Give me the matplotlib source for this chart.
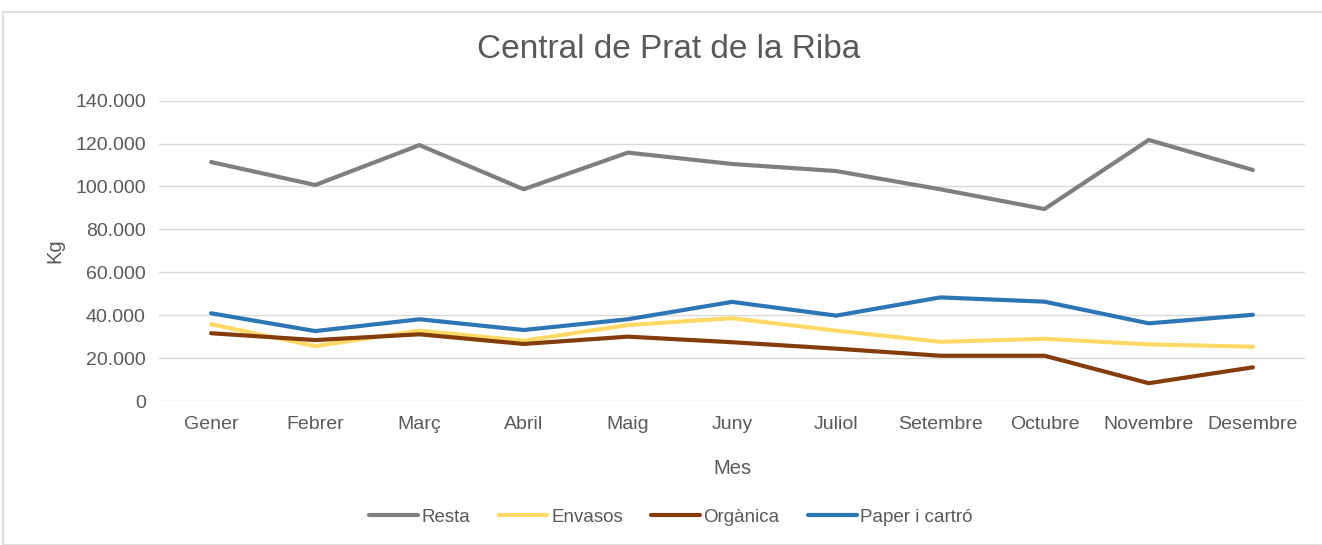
import matplotlib
matplotlib.use("Agg")
import matplotlib.pyplot as plt
from matplotlib.patches import Rectangle
from matplotlib.ticker import FuncFormatter

months = ["Gener", "Febrer", "Març", "Abril", "Maig", "Juny", "Juliol",
          "Setembre", "Octubre", "Novembre", "Desembre"]
resta = [111400, 100700, 119300, 98700, 115800, 110500, 107200, 98700, 89500, 121700, 107700]
envasos = [35800, 25600, 32800, 28100, 35400, 38600, 32800, 27600, 29000, 26400, 25300]
organica = [31600, 28400, 31100, 26600, 30000, 27400, 24400, 21100, 21100, 8300, 15700]
paper = [40900, 32600, 38100, 33100, 38100, 46200, 39800, 48300, 46300, 36200, 40200]
yticks = [0, 20000, 40000, 60000, 80000, 100000, 120000, 140000]

series = [("Resta", resta, "#7F7F7F"),
          ("Envasos", envasos, "#FFD966"),
          ("Orgànica", organica, "#843C0C"),
          ("Paper i cartró", paper, "#2E75B6")]

plt.rcParams['font.family'] = ['Liberation Sans', 'DejaVu Sans']
txt = "#595959"

W, H = 1322, 545
fig = plt.figure(figsize=(W / 100, H / 100), dpi=100)
fig.patches.append(Rectangle((3 / W, 0), 1.0, 1 - 12 / H, transform=fig.transFigure,
                             fill=False, edgecolor="#D9D9D9", linewidth=1.2))
ax = fig.add_axes([159 / W, 1 - 401 / H, (1305 - 159) / W, (401 - 100.7) / H])

x = list(range(len(months)))
for name, vals, col in series:
    ax.plot(x, vals, color=col, linewidth=3, label=name, solid_capstyle="round")

ax.set_xlim(-0.5, len(months) - 0.5)
ax.set_ylim(0, 140000)
ax.set_yticks(yticks)
ax.yaxis.set_major_formatter(FuncFormatter(lambda v, p: f"{int(v):,}".replace(",", ".")))
ax.set_xticks(x)
ax.set_xticklabels(months)
ax.grid(axis="y", color="#D9D9D9", linewidth=1)
ax.set_axisbelow(True)
for s in ax.spines.values():
    s.set_visible(False)
ax.tick_params(length=0, labelsize=14, colors=txt)
ax.tick_params(axis="x", pad=11)
ax.tick_params(axis="y", pad=9.5)

fig.text(55 / W, 1 - 251 / H, "Kg", rotation=90, ha="center", va="center",
         fontsize=14.5, color=txt)
fig.text(732 / W, 1 - 468 / H, "Mes", ha="center", va="center",
         fontsize=14.5, color=txt)
fig.text(669 / W, 1 - 50 / H, "Central de Prat de la Riba", ha="center", va="center",
         fontsize=24, color=txt)

leg = fig.legend(loc="center", bbox_to_anchor=(671 / W, 1 - 517 / H), ncol=4,
                 frameon=False, fontsize=13.5, handlelength=2.6, handletextpad=0.2,
                 columnspacing=1.5)
for t in leg.get_texts():
    t.set_color(txt)

fig.savefig("out.png", dpi=100)
